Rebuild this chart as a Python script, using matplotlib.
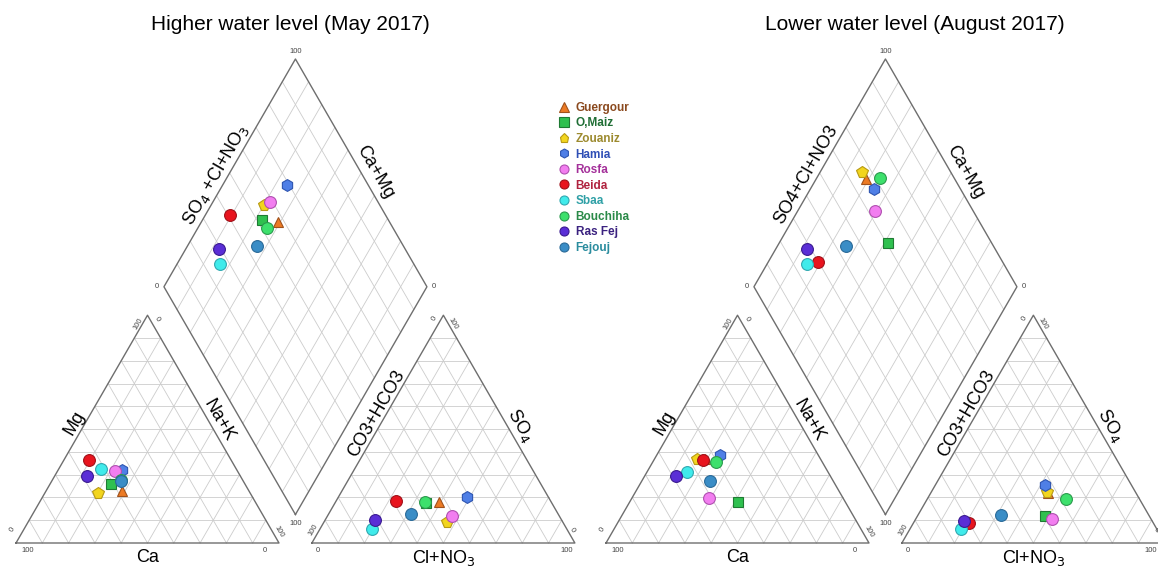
import numpy as np
import matplotlib.pyplot as plt
from matplotlib.lines import Line2D

plt.rcParams['font.family'] = ['Liberation Sans', 'DejaVu Sans']

names = ['Guergour', 'O,Maiz', 'Zouaniz', 'Hamia', 'Rosfa',
         'Beida', 'Sbaa', 'Bouchiha', 'Ras Fej', 'Fejouj']
markers = ['^', 's', 'p', 'h', 'o', 'o', 'o', 'o', 'o', 'o']
face = ['#EC7A24', '#2FC04F', '#F2D51E', '#4F7FE6', '#F27EF0',
        '#E8141E', '#40EBEB', '#3DE06C', '#5A2ED6', '#3A8DC6']
edge = ['#A0521C', '#1E7A33', '#B89A14', '#2E55B0', '#B050B0',
        '#A01018', '#30A8B0', '#2A9A4C', '#3A1A90', '#2A6A98']
textcol = ['#8B4A1F', '#1F6E35', '#9C8A2E', '#2F4FB5', '#A4309A',
           '#B0233F', '#2FA0A6', '#2A8A48', '#3B2280', '#2A8C9E']

# May 2017 (%), cations
may_mg = [22.7, 26.1, 22.0, 31.9, 31.6, 36.3, 32.6, 27.5, 29.3, 27.1]
may_na = [29.0, 22.9, 20.2, 24.4, 22.0, 9.6, 16.2, 26.0, 12.4, 26.5]
# May 2017 (%), anions
may_so4 = [18.0, 17.5, 9.2, 20.2, 11.7, 18.3, 6.3, 18.0, 10.0, 12.9]
may_cl = [39.4, 34.5, 46.7, 48.8, 47.3, 22.7, 19.9, 34.0, 19.1, 31.3]

# August 2017 (%), cations
aug_mg = [37.0, 17.9, 36.9, 38.5, 19.7, 36.6, 31.3, 35.5, 29.4, 27.2]
aug_na = [19.0, 41.4, 16.0, 24.0, 29.3, 18.7, 15.3, 24.0, 12.1, 26.1]
# August 2017 (%), anions
aug_so4 = [22.0, 12.0, 22.4, 25.4, 10.7, 8.7, 6.0, 19.1, 9.7, 12.2]
aug_cl = [44.5, 48.5, 43.9, 41.6, 51.7, 21.0, 19.4, 52.8, 18.9, 31.6]

G = 0.125
H = np.sqrt(3) / 2
GRID = '#cccccc'
EDGE = '#6e6e6e'
TICK = '#444444'


def tri_grid(ax, ox):
    for i in range(1, 10):
        f = i / 10
        ax.plot([ox + 0.5 * f, ox + 1 - 0.5 * f], [f * H, f * H], color=GRID, lw=0.6, zorder=1)
        ax.plot([ox + f, ox + f + 0.5 * (1 - f)], [0, (1 - f) * H], color=GRID, lw=0.6, zorder=1)
        ax.plot([ox + f, ox + 0.5 * f], [0, f * H], color=GRID, lw=0.6, zorder=1)
    ax.plot([ox, ox + 1, ox + 0.5, ox], [0, 0, H, 0], color=EDGE, lw=1.0, zorder=2)


def diamond_grid(ax):
    B = np.array([1 + G / 2, G * H])
    L = np.array([0.5 + G / 2, (1 + G) * H])
    T = np.array([1 + G / 2, (2 + G) * H])
    R = np.array([1.5 + G / 2, (1 + G) * H])
    for i in range(1, 10):
        f = i / 10
        p, q = B + f * (R - B), L + f * (R - B)
        ax.plot([p[0], q[0]], [p[1], q[1]], color=GRID, lw=0.6, zorder=1)
        p, q = B + f * (L - B), R + f * (L - B)
        ax.plot([p[0], q[0]], [p[1], q[1]], color=GRID, lw=0.6, zorder=1)
    pts = np.array([B, L, T, R, B])
    ax.plot(pts[:, 0], pts[:, 1], color=EDGE, lw=1.0, zorder=2)


def tick(ax, x, y, s, rot=0):
    ax.text(x, y, s, fontsize=5.5, color=TICK, rotation=rot, ha='center', va='center')


def piper(ax, mg, na, so4, cl, sub, right_tick=0.969):
    mg = np.array(mg) / 100
    na = np.array(na) / 100
    so4 = np.array(so4) / 100
    cl = np.array(cl) / 100
    tri_grid(ax, 0)
    tri_grid(ax, 1 + G)
    diamond_grid(ax)

    xc, yc = na + 0.5 * mg, mg * H
    xa, ya = 1 + G + cl + 0.5 * so4, so4 * H
    A = cl + so4
    xd, yd = 0.5 * (1 + G + na + A), H * (1 + G + A - na)
    for i in range(len(names)):
        ms = 8.5 if markers[i] in 'oph' else (7.5 if markers[i] == '^' else 6.5)
        for x, y in ((xc, yc), (xa, ya), (xd, yd)):
            ax.plot(x[i], y[i], marker=markers[i], ms=ms, mfc=face[i], mec=edge[i],
                    mew=0.8, ls='none', zorder=5)

    # axis labels
    fs = 13
    ax.text(0.222, 0.456, 'Mg', fontsize=fs, rotation=60, ha='center', va='center')
    ax.text(0.770, 0.465, 'Na+K', fontsize=fs, rotation=-60, ha='center', va='center')
    ax.text(0.5, -0.055, 'Ca', fontsize=fs, ha='center', va='center')
    ax.text(1.369, 0.49, 'CO3+HCO3', fontsize=fs, rotation=60, ha='center', va='center')
    ax.text(1.92, 0.446, 'SO$_4$', fontsize=fs, rotation=-60, ha='center', va='center')
    ax.text(1.625, -0.056, 'Cl+NO$_3$', fontsize=fs, ha='center', va='center')
    if sub:
        lab = 'SO$_4$ +Cl+NO$_3$'
    else:
        lab = 'SO4+Cl+NO3'
    ax.text(0.76, 1.40, lab, fontsize=fs, rotation=60, ha='center', va='center')
    ax.text(1.365, 1.41, 'Ca+Mg', fontsize=fs, rotation=-60, ha='center', va='center')

    # tick labels
    tick(ax, 0.046, -0.027, '100')
    tick(ax, -0.012, 0.05, '0', 60)
    tick(ax, 0.465, 0.835, '100', 60)
    tick(ax, 0.535, 0.85, '0', -60)
    tick(ax, 0.947, -0.027, '0')
    tick(ax, 1.0, 0.045, '100', -60)
    ox = 1 + G
    tick(ax, ox + 0.024, -0.027, '0')
    tick(ax, ox + 0.005, 0.05, '100', 60)
    tick(ax, ox + 0.468, 0.855, '0', 60)
    tick(ax, ox + 0.538, 0.835, '100', -60)
    tick(ax, ox + right_tick, -0.027, '100')
    tick(ax, ox + min(1.01, right_tick + 0.02), 0.05, '0', -60)
    tick(ax, 1 + G / 2, G * H - 0.035, '100')
    tick(ax, 0.535, (1 + G) * H, '0')
    tick(ax, 1.59, (1 + G) * H, '0')
    tick(ax, 1 + G / 2, (2 + G) * H + 0.03, '100')


fig = plt.figure(figsize=(11.58, 5.66), dpi=100)
ylim = (-23 / 263, 543 / 263)

ax1 = fig.add_axes([0, 0, 0.5, 1])
ax1.set_xlim(-16 / 263, 563 / 263)
ax1.set_ylim(*ylim)
ax1.axis('off')
piper(ax1, may_mg, may_na, may_so4, may_cl, True)
ax1.text(1.042, 1.972, 'Higher water level (May 2017)', fontsize=15, ha='center', va='center')

ax2 = fig.add_axes([0.5, 0, 0.5, 1])
ax2.set_xlim(-27 / 263, 552 / 263)
ax2.set_ylim(*ylim)
ax2.axis('off')
piper(ax2, aug_mg, aug_na, aug_so4, aug_cl, False, right_tick=0.945)
ax2.text(1.175, 1.972, 'Lower water level (August 2017)', fontsize=15, ha='center', va='center')

handles = []
for i in range(len(names)):
    handles.append(Line2D([], [], marker=markers[i], ls='none', ms=6.5,
                          mfc=face[i], mec=edge[i], mew=0.8))
fig.legend(handles, names, loc='upper left', bbox_to_anchor=(552 / 1158, 1 - 96 / 566),
           frameon=False, labelcolor=textcol, handlelength=1.0, handletextpad=0.5,
           labelspacing=0.3, borderpad=0, prop={'weight': 'bold', 'size': 8.5})

fig.savefig('out.png', dpi=100)
